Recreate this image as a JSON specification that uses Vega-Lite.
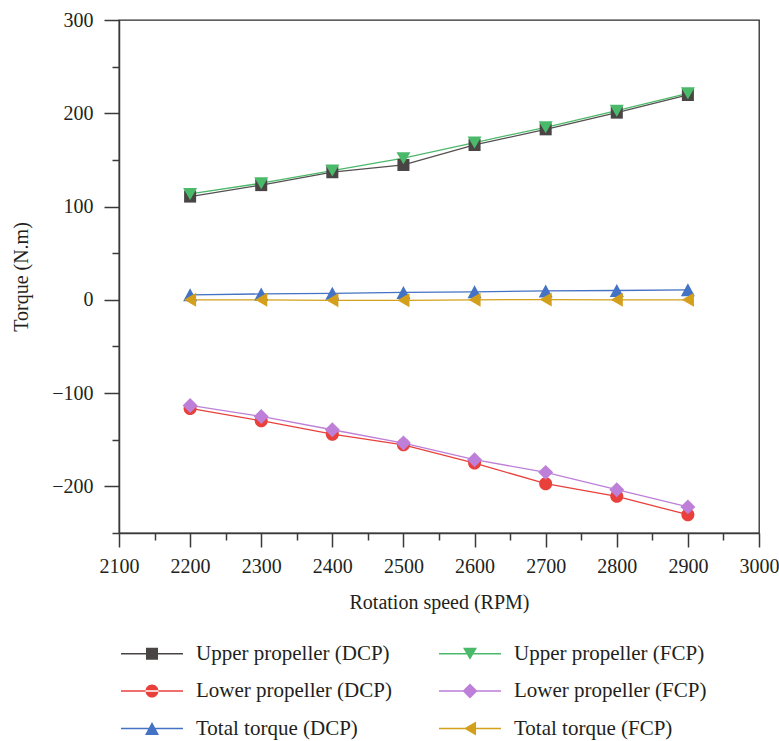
{
  "$schema": "https://vega.github.io/schema/vega-lite/v6.json",
  "width": 640,
  "height": 513,
  "autosize": {"type": "none"},
  "padding": {"left": 119, "top": 20, "right": 20, "bottom": 208},
  "background": "white",
  "config": {
    "view": {"stroke": "#2b2b2b", "strokeWidth": 1.3},
    "font": "Liberation Serif",
    "axis": {
      "labelFont": "Liberation Serif",
      "titleFont": "Liberation Serif",
      "labelFontSize": 20,
      "titleFontSize": 20,
      "titleFontWeight": "normal",
      "labelColor": "#231f20",
      "titleColor": "#231f20",
      "domainColor": "#3a3a3a",
      "domainWidth": 1.5,
      "tickColor": "#3a3a3a",
      "tickWidth": 1.5,
      "grid": false,
      "labelOverlap": false,
      "labelFlush": false
    },
    "legend": {
      "orient": "none",
      "direction": "horizontal",
      "legendX": 22.5,
      "legendY": 623,
      "columns": 2,
      "padding": 0,
      "columnPadding": 43,
      "rowPadding": 15.5,
      "labelOffset": 33.5,
      "labelFont": "Liberation Serif",
      "labelFontSize": 21,
      "labelColor": "#231f20",
      "labelLimit": 400,
      "symbolSize": 196
    }
  },
  "data": {
    "values": [
      {"rpm": 2200, "series": "Upper propeller (DCP)", "torque": 110.7},
      {"rpm": 2300, "series": "Upper propeller (DCP)", "torque": 123.0},
      {"rpm": 2400, "series": "Upper propeller (DCP)", "torque": 136.8},
      {"rpm": 2500, "series": "Upper propeller (DCP)", "torque": 144.6},
      {"rpm": 2600, "series": "Upper propeller (DCP)", "torque": 166.0},
      {"rpm": 2700, "series": "Upper propeller (DCP)", "torque": 182.8},
      {"rpm": 2800, "series": "Upper propeller (DCP)", "torque": 200.7},
      {"rpm": 2900, "series": "Upper propeller (DCP)", "torque": 219.6},
      {"rpm": 2200, "series": "Lower propeller (DCP)", "torque": -116.5},
      {"rpm": 2300, "series": "Lower propeller (DCP)", "torque": -129.6},
      {"rpm": 2400, "series": "Lower propeller (DCP)", "torque": -144.0},
      {"rpm": 2500, "series": "Lower propeller (DCP)", "torque": -155.4},
      {"rpm": 2600, "series": "Lower propeller (DCP)", "torque": -175.0},
      {"rpm": 2700, "series": "Lower propeller (DCP)", "torque": -197.1},
      {"rpm": 2800, "series": "Lower propeller (DCP)", "torque": -210.7},
      {"rpm": 2900, "series": "Lower propeller (DCP)", "torque": -230.4},
      {"rpm": 2200, "series": "Total torque (DCP)", "torque": 5.4},
      {"rpm": 2300, "series": "Total torque (DCP)", "torque": 6.3},
      {"rpm": 2400, "series": "Total torque (DCP)", "torque": 7.0},
      {"rpm": 2500, "series": "Total torque (DCP)", "torque": 7.9},
      {"rpm": 2600, "series": "Total torque (DCP)", "torque": 8.6},
      {"rpm": 2700, "series": "Total torque (DCP)", "torque": 9.5},
      {"rpm": 2800, "series": "Total torque (DCP)", "torque": 10.0},
      {"rpm": 2900, "series": "Total torque (DCP)", "torque": 10.7},
      {"rpm": 2200, "series": "Upper propeller (FCP)", "torque": 113.5},
      {"rpm": 2300, "series": "Upper propeller (FCP)", "torque": 125.0},
      {"rpm": 2400, "series": "Upper propeller (FCP)", "torque": 138.6},
      {"rpm": 2500, "series": "Upper propeller (FCP)", "torque": 151.8},
      {"rpm": 2600, "series": "Upper propeller (FCP)", "torque": 168.6},
      {"rpm": 2700, "series": "Upper propeller (FCP)", "torque": 185.0},
      {"rpm": 2800, "series": "Upper propeller (FCP)", "torque": 202.8},
      {"rpm": 2900, "series": "Upper propeller (FCP)", "torque": 221.4},
      {"rpm": 2200, "series": "Lower propeller (FCP)", "torque": -113.2},
      {"rpm": 2300, "series": "Lower propeller (FCP)", "torque": -125.0},
      {"rpm": 2400, "series": "Lower propeller (FCP)", "torque": -139.3},
      {"rpm": 2500, "series": "Lower propeller (FCP)", "torque": -153.6},
      {"rpm": 2600, "series": "Lower propeller (FCP)", "torque": -171.4},
      {"rpm": 2700, "series": "Lower propeller (FCP)", "torque": -185.0},
      {"rpm": 2800, "series": "Lower propeller (FCP)", "torque": -203.6},
      {"rpm": 2900, "series": "Lower propeller (FCP)", "torque": -222.0},
      {"rpm": 2200, "series": "Total torque (FCP)", "torque": 0.0},
      {"rpm": 2300, "series": "Total torque (FCP)", "torque": 0.0},
      {"rpm": 2400, "series": "Total torque (FCP)", "torque": -0.5},
      {"rpm": 2500, "series": "Total torque (FCP)", "torque": -0.5},
      {"rpm": 2600, "series": "Total torque (FCP)", "torque": 0.0},
      {"rpm": 2700, "series": "Total torque (FCP)", "torque": 0.3},
      {"rpm": 2800, "series": "Total torque (FCP)", "torque": 0.0},
      {"rpm": 2900, "series": "Total torque (FCP)", "torque": 0.0}
    ]
  },
  "encoding": {
    "x": {
      "field": "rpm",
      "type": "quantitative",
      "scale": {"domain": [2100, 3000], "nice": false, "zero": false},
      "axis": {
        "title": "Rotation speed (RPM)",
        "values": [2100, 2150, 2200, 2250, 2300, 2350, 2400, 2450, 2500, 2550, 2600, 2650, 2700, 2750, 2800, 2850, 2900, 2950, 3000],
        "format": "d",
        "labelExpr": "datum.value % 100 === 0 ? datum.label : ''",
        "tickSize": {"condition": {"test": "datum.value % 100 === 0", "value": 14}, "value": 7},
        "labelPadding": 9,
        "titlePadding": 16
      }
    },
    "y": {
      "field": "torque",
      "type": "quantitative",
      "scale": {"domain": [-250, 300], "nice": false, "zero": false},
      "axis": {
        "title": "Torque (N.m)",
        "values": [-250, -200, -150, -100, -50, 0, 50, 100, 150, 200, 250, 300],
        "format": "d",
        "labelExpr": "datum.value % 100 === 0 ? datum.label : ''",
        "tickSize": {"condition": {"test": "datum.value % 100 === 0", "value": 15}, "value": 7},
        "labelPadding": 11,
        "titlePadding": 20
      }
    }
  },
  "resolve": {
    "scale": {"shape": "independent", "fill": "independent"},
    "legend": {"shape": "independent", "fill": "independent"}
  },
  "layer": [
    {
      "mark": {"type": "line", "strokeWidth": 1.3},
      "encoding": {
        "stroke": {
          "field": "series",
          "type": "nominal",
          "legend": null,
          "scale": {
            "domain": ["Total torque (FCP)", "Total torque (DCP)", "Lower propeller (FCP)", "Lower propeller (DCP)", "Upper propeller (FCP)", "Upper propeller (DCP)"],
            "range": ["#d4a01c", "#4472c4", "#bd7fd7", "#e9403b", "#4bb96a", "#555050"]
          }
        },
        "detail": {"field": "series"}
      }
    },
    {
      "mark": {"type": "point", "filled": true, "opacity": 1, "size": 196},
      "encoding": {
        "color": {
          "field": "series",
          "type": "nominal",
          "legend": null,
          "scale": {
            "domain": ["Total torque (FCP)", "Total torque (DCP)", "Lower propeller (FCP)", "Lower propeller (DCP)", "Upper propeller (FCP)", "Upper propeller (DCP)"],
            "range": ["#d4a01c", "#4472c4", "#bd7fd7", "#e9403b", "#4bb96a", "#4a4545"]
          }
        },
        "shape": {
          "field": "series",
          "type": "nominal",
          "legend": null,
          "scale": {
            "domain": ["Total torque (FCP)", "Total torque (DCP)", "Lower propeller (FCP)", "Lower propeller (DCP)", "Upper propeller (FCP)", "Upper propeller (DCP)"],
            "range": ["M-0.86,0L0.86,-1V1Z", "M0,-0.93L1,0.93H-1Z", "M0,-1.07L1.07,0L0,1.07L-1.07,0Z", "M-0.93,0A0.93,0.93,0,1,0,0.93,0A0.93,0.93,0,1,0,-0.93,0Z", "M-1,-0.86H1L0,0.86Z", "M-0.86,-0.86H0.86V0.86H-0.86Z"]
          }
        }
      }
    },
    {
      "transform": [{"filter": "datum.rpm < 0"}],
      "mark": {"type": "point", "filled": true, "opacity": 1, "size": 196},
      "encoding": {
        "fill": {
          "field": "series",
          "type": "nominal",
          "legend": {"title": null},
          "scale": {
            "domain": ["Upper propeller (DCP)", "Upper propeller (FCP)", "Lower propeller (DCP)", "Lower propeller (FCP)", "Total torque (DCP)", "Total torque (FCP)"],
            "range": ["#4a4545", "#4bb96a", "#e9403b", "#bd7fd7", "#4472c4", "#d4a01c"]
          }
        },
        "shape": {
          "field": "series",
          "type": "nominal",
          "legend": {"title": null},
          "scale": {
            "domain": ["Upper propeller (DCP)", "Upper propeller (FCP)", "Lower propeller (DCP)", "Lower propeller (FCP)", "Total torque (DCP)", "Total torque (FCP)"],
            "range": [
              "M-4.43,-0.09H4.43V0.09H-4.43ZM-0.86,-0.86H0.86V0.86H-0.86Z",
              "M-4.43,-0.09H4.43V0.09H-4.43ZM-1,-0.86H1L0,0.86Z",
              "M-4.43,-0.09H4.43V0.09H-4.43ZM-0.93,0A0.93,0.93,0,1,0,0.93,0A0.93,0.93,0,1,0,-0.93,0Z",
              "M-4.43,-0.09H4.43V0.09H-4.43ZM0,-1.07L1.07,0L0,1.07L-1.07,0Z",
              "M-4.43,-0.09H4.43V0.09H-4.43ZM0,-0.93L1,0.93H-1Z",
              "M-4.43,-0.09H4.43V0.09H-4.43ZM-0.86,0L0.86,-1V1Z"
            ]
          }
        }
      }
    }
  ]
}
